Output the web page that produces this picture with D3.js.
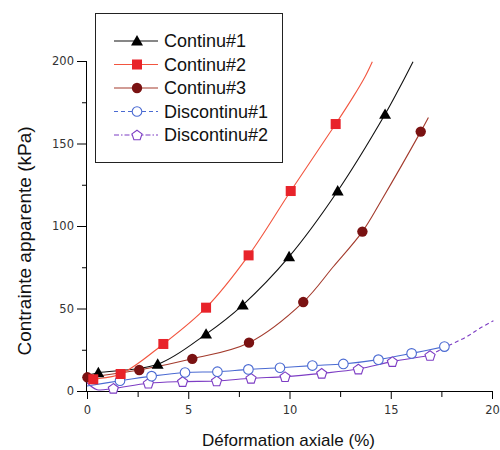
<!DOCTYPE html>
<html><head><meta charset="utf-8">
<script src="https://cdn.jsdelivr.net/npm/d3@7"></script>
<style>body{margin:0;background:#fff}</style>
</head><body>
<svg id="c" width="500" height="450"></svg>
<script>
// ---- data ----
const seriesNames = ["Continu#1","Continu#2","Continu#3","Discontinu#1","Discontinu#2"];
const xTicks = [0,5,10,15,20];
const yTicks = [0,50,100,150,200];

// marker points
const c1Marks = [[0.56,11.1],[3.49,16.2],[5.88,34.5],[7.69,52.1],[9.98,81.4],[12.38,121.2],[14.72,167.7]];
const c2Marks = [[0.31,7.1],[1.66,10.3],[3.77,28.5],[5.88,50.5],[7.98,82.2],[10.06,121.2],[12.28,161.8]];
const c3Marks = [[0.02,8.3],[2.58,12.7],[5.2,19.5],[8.0,29.3],[10.68,53.9],[13.6,96.6],[16.48,157.2]];
const d1Marks = [[1.63,6.2],[3.19,9.0],[4.84,11.2],[6.44,11.7],[7.97,13.1],[9.53,14.1],[11.13,15.4],[12.66,16.4],[14.39,19.0],[16.03,22.8],[17.65,26.9]];
const d2Marks = [[1.3,1.6],[3.03,4.7],[4.72,5.7],[6.4,6.1],[8.1,7.7],[9.78,8.7],[11.59,10.7],[13.4,13.3],[15.08,17.8],[16.94,21.5]];

// extra line-only points (start/end of the recorded curves)
const c1Extra = [[0,9.5],[15.46,184.4],[16.1,199.6]];
const c2Extra = [[0.05,6.5],[13.15,178.4],[13.73,190.5],[14.09,199.6]];
const c3Extra = [[12.16,75.3],[14.55,115.8],[16.86,165.8]];
const d1Extra = [[0,3.0]];
const d2Extra = [[0,5.0],[0.5,0.8]];
const d2Tail = [[16.94,21.5],[17.6,26.0],[18.75,32.9],[19.4,38.0],[20.07,42.6]];

// ---- layout ----
const svg = d3.select("#c");
const L = 87, R = 492, T = 61, B = 391;
const x = d3.scaleLinear().domain([0,20]).range([L,R]);
const y = d3.scaleLinear().domain([0,200]).range([B,T]);

const colors = {
  c1:{line:"#111",mark:"#000"},
  c2:{line:"#f2553f",mark:"#e8232a"},
  c3:{line:"#a33a2c",mark:"#7a1212"},
  d1:{line:"#4a6ad2",mark:"#4a6ad2"},
  d2:{line:"#7d3dc4",mark:"#7d3dc4"}
};

// axes
const tickFont = "DejaVu Sans, sans-serif";
const xAxis = d3.axisBottom(x).tickValues(d3.range(0,20.01,2.5)).tickSize(7)
  .tickFormat(d => xTicks.includes(d) ? d3.format("d")(d) : "");
const gx = svg.append("g").attr("transform",`translate(0,${B})`).call(xAxis);
gx.select(".domain").attr("stroke","#000").attr("d",`M${L},0.5H${R}`);
gx.selectAll(".tick line").attr("stroke","#000").attr("y2", d => xTicks.includes(d)?8:6);
gx.selectAll(".tick text").attr("font-family",tickFont).attr("font-size","11.5px").attr("fill","#333").attr("y",15).attr("dy","0.71em");

const yAxis = d3.axisLeft(y).tickValues(d3.range(0,200.01,25)).tickSize(9)
  .tickFormat(d => yTicks.includes(d) ? d3.format("d")(d) : "");
const gy = svg.append("g").attr("transform",`translate(${L},0)`).call(yAxis);
gy.select(".domain").attr("stroke","#000").attr("d",`M-0.5,${T}V${B}`);
gy.selectAll(".tick line").attr("stroke","#000").attr("x2", d => yTicks.includes(d)?-10:-5);
gy.selectAll(".tick text").attr("font-family",tickFont).attr("font-size","11.5px").attr("fill","#333").attr("x",-13);

// axis titles
svg.append("text").attr("x",(L+R)/2 - 1).attr("y",446).attr("text-anchor","middle")
  .attr("font-family","Liberation Sans, Arial, sans-serif").attr("font-size","17px").attr("fill","#111")
  .text("Déformation axiale (%)");
svg.append("text").attr("transform","translate(31,241) rotate(-90)").attr("text-anchor","middle")
  .attr("font-family","Liberation Sans, Arial, sans-serif").attr("font-size","19px").attr("fill","#111")
  .text("Contrainte apparente (kPa)");

// lines
const line = d3.line().x(d=>x(d[0])).y(d=>y(d[1])).curve(d3.curveCatmullRom.alpha(0.5));
function merged(a,b){ return a.concat(b).sort((p,q)=>p[0]-q[0]); }
const plot = svg.append("g");
const defs = [
  {k:"d2", pts:merged(d2Marks,d2Extra), marks:d2Marks, sym:"pent"},
  {k:"d1", pts:merged(d1Marks,d1Extra), marks:d1Marks, sym:"ocircle"},
  {k:"c3", pts:merged(c3Marks,c3Extra), marks:c3Marks, sym:"circle"},
  {k:"c1", pts:merged(c1Marks,c1Extra), marks:c1Marks, sym:"tri"},
  {k:"c2", pts:merged(c2Marks,c2Extra), marks:c2Marks, sym:"square"}
];
defs.forEach(s=>{
  plot.append("path").attr("d",line(s.pts)).attr("fill","none")
    .attr("stroke",colors[s.k].line).attr("stroke-width",1.1);
});
plot.append("path").attr("d",line(d2Tail)).attr("fill","none")
  .attr("stroke",colors.d2.line).attr("stroke-width",1.1).attr("stroke-dasharray","4,3");

function pentagon(r){
  const p=[];for(let i=0;i<5;i++){const a=-Math.PI/2+i*2*Math.PI/5;p.push([r*Math.cos(a),r*Math.sin(a)]);}
  return "M"+p.map(q=>q.join(",")).join("L")+"Z";
}
function drawMarker(g,sym,k,cx,cy){
  const c = colors[k].mark;
  if(sym==="tri") g.append("path").attr("d",d3.symbol(d3.symbolTriangle,62)())
     .attr("transform",`translate(${cx},${cy+1})`).attr("fill",c);
  else if(sym==="square") g.append("rect").attr("x",cx-5).attr("y",cy-5).attr("width",10).attr("height",10).attr("fill",c);
  else if(sym==="circle") g.append("circle").attr("cx",cx).attr("cy",cy).attr("r",5.2).attr("fill",c);
  else if(sym==="ocircle") g.append("circle").attr("cx",cx).attr("cy",cy).attr("r",4.8).attr("fill","#fff").attr("stroke",c).attr("stroke-width",1.1);
  else if(sym==="pent") g.append("path").attr("d",pentagon(5.3)).attr("transform",`translate(${cx},${cy+0.5})`)
     .attr("fill","#fff").attr("stroke",c).attr("stroke-width",1.1);
}
defs.forEach(s=>{
  s.marks.forEach(d=>drawMarker(plot,s.sym,s.k,x(d[0]),y(d[1])));
});

// legend
const lg = svg.append("g");
lg.append("rect").attr("x",95.5).attr("y",13.5).attr("width",187).attr("height",149)
  .attr("fill","#fff").attr("stroke","#222").attr("stroke-width",1);
const legItems = [
  {k:"c1",sym:"tri",dash:null},
  {k:"c2",sym:"square",dash:null},
  {k:"c3",sym:"circle",dash:null},
  {k:"d1",sym:"ocircle",dash:"4,3"},
  {k:"d2",sym:"pent",dash:"5,2,1.5,2"}
];
const rowY = d3.scaleLinear().domain([0,4]).range([41,135]);
legItems.forEach((it,i)=>{
  const yy = rowY(i);
  lg.append("line").attr("x1",114).attr("x2",158).attr("y1",yy).attr("y2",yy)
    .attr("stroke",colors[it.k].line).attr("stroke-width",1.2).attr("stroke-dasharray",it.dash);
  drawMarker(lg,it.sym,it.k,137,yy);
  lg.append("text").attr("x",164).attr("y",yy).attr("dy","0.36em")
    .attr("font-family","Liberation Sans, Arial, sans-serif").attr("font-size","18px").attr("fill","#111")
    .text(seriesNames[i]);
});
</script>
</body></html>
